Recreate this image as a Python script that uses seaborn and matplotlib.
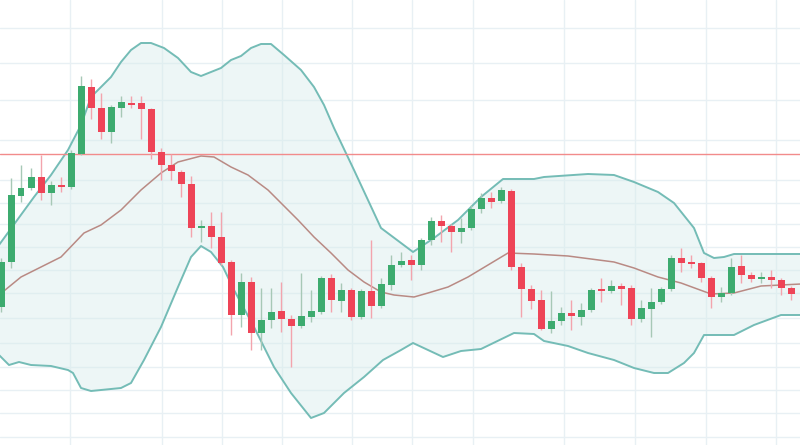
import numpy as np
import pandas as pd
import matplotlib
matplotlib.use("Agg")
import matplotlib.pyplot as plt
import seaborn as sns

# ---- candle data (price units) ----
opens = [138, 183, 249, 257, 268, 252, 260, 258, 291, 358,
         337, 313, 337, 342, 342, 336, 293, 280, 273, 261,
         217, 219, 208, 183, 130, 163, 112, 125, 134, 126,
         119, 128, 133, 167, 144, 155, 128, 154, 139, 160,
         180, 185, 180, 205, 224, 219, 213, 217, 236, 247,
         244, 254, 178, 156, 145, 116, 124, 132, 128, 135,
         156, 154, 159, 157, 126, 136, 143, 156, 187, 183,
         182, 167, 148, 152, 179, 170, 166, 168, 165, 157]
closes = [183, 250, 257, 268, 252, 260, 258, 292, 359, 337,
          313, 338, 343, 340, 336, 293, 280, 274, 261, 217,
          219, 208, 182, 130, 163, 112, 125, 133, 126, 119,
          129, 134, 167, 145, 155, 128, 154, 139, 161, 180,
          184, 180, 205, 224, 219, 213, 217, 236, 247, 243,
          255, 178, 156, 144, 116, 124, 132, 129, 135, 155,
          154, 159, 156, 126, 137, 143, 156, 187, 182, 181,
          167, 148, 152, 178, 170, 166, 168, 165, 157, 151]
highs = [187, 267, 280, 277, 290, 264, 268, 295, 369, 366,
         352, 340, 349, 349, 349, 337, 297, 291, 275, 269,
         225, 233, 233, 185, 172, 168, 157, 157, 163, 130,
         172, 155, 169, 171, 162, 157, 156, 205, 167, 190,
         193, 190, 207, 228, 230, 221, 227, 240, 252, 253,
         258, 256, 182, 160, 155, 154, 138, 145, 142, 157,
         167, 165, 162, 160, 145, 157, 158, 190, 197, 190,
         183, 169, 158, 187, 190, 173, 173, 175, 167, 159]
lows = [133, 177, 243, 255, 245, 240, 253, 256, 290, 326,
        306, 302, 328, 337, 306, 286, 265, 265, 248, 208,
        203, 197, 180, 110, 118, 95, 95, 117, 113, 78,
        117, 123, 131, 133, 133, 125, 126, 127, 137, 155,
        178, 165, 175, 200, 203, 193, 202, 215, 232, 237,
        242, 175, 128, 136, 115, 112, 120, 115, 120, 133,
        143, 152, 140, 120, 123, 108, 141, 154, 173, 177,
        163, 137, 143, 150, 162, 163, 162, 157, 150, 145]

# ---- Bollinger bands (x in candle index) ----
upper_x = [-0.2, 3.3, 5, 6.7, 8, 9, 11, 12, 13, 14, 15, 16.3, 17.7, 19, 20,
           22, 23, 24, 25, 26, 27, 28.3, 30, 31.3, 32.3, 33.3, 35.3, 38,
           41.2, 43.3, 45.7, 48, 50.2, 53.3, 54.3, 58.7, 61.3, 63.3, 65.7,
           67.3, 69.3, 70.3, 71.3, 72.3, 73.3, 74.7, 80]
upper_y = [200, 248, 270, 295, 320, 348, 368, 383, 395, 402, 402, 397, 387,
           373, 369, 377, 385, 389, 397, 401, 401, 390, 375, 358, 340, 317,
           275, 217, 193, 207, 225, 248, 266, 266, 268, 271, 270, 263, 253,
           242, 217, 192, 187, 188, 191, 191, 191]
lower_x = [-0.2, 0.8, 1.8, 3, 5, 6.7, 7.2, 8, 9, 10, 12, 13, 14.3, 16, 17.7,
           19, 20, 21, 22.2, 23.3, 25.3, 27.3, 29, 31, 32.3, 34.3, 36.3,
           38.2, 40, 41.2, 44.2, 46, 48, 51.3, 53.3, 54.3, 56.7, 58.7, 61.3,
           63.3, 65.3, 66.7, 68.3, 69.3, 70.3, 73.3, 75.3, 78, 80]
lower_y = [90, 80, 83, 80, 79, 75, 72, 57, 54, 55, 57, 62, 85, 118, 158, 188,
           199, 193, 178, 155, 118, 78, 52, 27, 32, 52, 68, 85, 95, 102, 88,
           94, 96, 112, 111, 104, 99, 92, 85, 77, 72, 72, 82, 92, 110, 110,
           120, 130, 130]
mid_x = [-0.2, 2, 4, 6, 8.3, 10, 12, 14, 16, 17.7, 20, 21.3, 23, 24.7, 26.7,
         28, 29.7, 31.3, 33, 34.7, 36.3, 38, 39.3, 41.3, 42.7, 44.7, 46.7,
         48.7, 50.7, 53.3, 56.7, 61.3, 63.3, 65.7, 68, 71, 73.3, 76, 80]
mid_y = [150, 168, 178, 188, 212, 220, 235, 255, 272, 283, 289, 288, 278, 270,
         255, 242, 225, 208, 192, 175, 163, 153, 150, 148, 152, 158, 168, 180,
         192, 191, 189, 183, 177, 168, 162, 151, 152, 159, 161]
level = 291

# grid positions
vgrid = [6.9, 16.1, 22.1, 28.1, 35.1, 41.1, 47.2, 56.3, 63.4, 70.5, 77.5]
hgrid = [417, 382, 345, 305, 265, 242, 221, 198, 175, 152, 127, 102, 78, 55, 32, 8]

sns.set_theme(style="white")

fig = plt.figure(figsize=(8, 4.45), dpi=100)
ax = fig.add_axes([0, 0, 1, 1])
ax.set_facecolor("white")

for v in vgrid:
    ax.axvline(v, color="#e8f0f4", lw=1, zorder=0)
for h in hgrid:
    ax.axhline(h, color="#e8f0f4", lw=1, zorder=0)

# band fill
ux = np.array(upper_x, float); uy = np.array(upper_y, float)
lx = np.array(lower_x, float); ly = np.array(lower_y, float)
grid_x = np.linspace(-0.2, 80, 800)
ax.fill_between(grid_x, np.interp(grid_x, lx, ly), np.interp(grid_x, ux, uy),
                color="#d8ecec", alpha=0.45, lw=0, zorder=1)

band_col = "#74bcb6"
sns.lineplot(x=upper_x, y=upper_y, ax=ax, color=band_col, lw=1.4, sort=False, zorder=2)
sns.lineplot(x=lower_x, y=lower_y, ax=ax, color=band_col, lw=1.4, sort=False, zorder=2)
sns.lineplot(x=mid_x, y=mid_y, ax=ax, color="#b98a84", lw=1.1, sort=False, zorder=2)

ax.axhline(level, color="#f28b8b", lw=1.0, zorder=2)

# candles
df = pd.DataFrame({"o": opens, "c": closes, "h": highs, "l": lows})
df["i"] = np.arange(len(df))
up = df["c"] >= df["o"]
green, red = "#3dab6f", "#ee4457"
gwick, rwick = "#a7c8b6", "#f3a4ad"
ax.vlines(df["i"][up], df["l"][up], df["h"][up], color=gwick, lw=1, zorder=3)
ax.vlines(df["i"][~up], df["l"][~up], df["h"][~up], color=rwick, lw=1, zorder=3)
bottom = np.minimum(df["o"], df["c"])
height = np.maximum(np.abs(df["c"] - df["o"]), 2)
ax.bar(df["i"][up], height[up], bottom=bottom[up], width=0.7, color=green, lw=0, zorder=4)
ax.bar(df["i"][~up], height[~up], bottom=bottom[~up], width=0.7, color=red, lw=0, zorder=4)

ax.set_xlim(-0.1, 79.9)
ax.set_ylim(0, 445)
ax.set_xticks([]); ax.set_yticks([])
for s in ax.spines.values():
    s.set_visible(False)
ax.set_xlabel(""); ax.set_ylabel("")

fig.savefig("out.png", dpi=100)
